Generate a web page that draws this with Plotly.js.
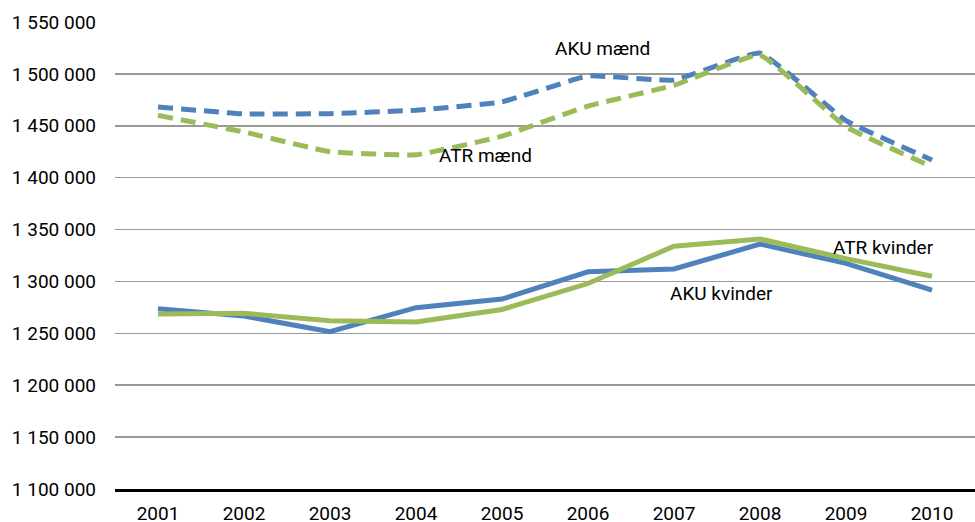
<!DOCTYPE html>
<html>
<head>
<meta charset="utf-8">
<script src="https://cdn.plot.ly/plotly-3.0.1.min.js"></script>
<style>html,body{margin:0;padding:0;background:#fff;}#chart{width:975px;height:522px;}</style>
</head>
<body>
<div id="chart"></div>
<script>
const years = ["2001","2002","2003","2004","2005","2006","2007","2008","2009","2010"];
const akuMaend = [1468000, 1461500, 1461700, 1465000, 1473000, 1498000, 1494000, 1520000, 1455000, 1417000];
const atrMaend = [1460000, 1444000, 1425000, 1422000, 1440000, 1469000, 1489000, 1518000, 1449000, 1410500];
const akuKvinder = [1273700, 1266700, 1251500, 1274700, 1283000, 1309300, 1312000, 1336000, 1317400, 1291700];
const atrKvinder = [1268600, 1269300, 1262100, 1261000, 1273000, 1298000, 1334000, 1341000, 1322000, 1305000];
const labels = ["AKU mænd", "ATR mænd", "ATR kvinder", "AKU kvinder"];

const blue = "#4F81BD", green = "#9BBB59";
const font = "Roboto, 'Open Sans', sans-serif";
const fs = 19;

const traces = [
  {x: years, y: akuKvinder, name: labels[3], mode: "lines", line: {color: blue, width: 5}},
  {x: years, y: atrKvinder, name: labels[2], mode: "lines", line: {color: green, width: 5}},
  {x: years, y: akuMaend, name: labels[0], mode: "lines", line: {color: blue, width: 5, dash: "15px,8px", shape: "spline", smoothing: 0.3}},
  {x: years, y: atrMaend, name: labels[1], mode: "lines", line: {color: green, width: 5, dash: "15px,8px", shape: "spline", smoothing: 0.3}}
];

const layout = {
  width: 975, height: 522,
  margin: {l: 115, r: 0, t: 22, b: 33},
  showlegend: false,
  paper_bgcolor: "#fff", plot_bgcolor: "#fff",
  separators: ", ",
  font: {family: font, size: fs, color: "#000"},
  xaxis: {
    type: "category",
    range: [-0.5, 9.5],
    showgrid: false, zeroline: false,
    showline: true, linecolor: "#000", linewidth: 3,
    ticks: "", ticklabelstandoff: 5,
    tickfont: {family: font, size: fs, color: "#000"}
  },
  yaxis: {
    range: [1100000, 1550000],
    dtick: 50000, tickformat: ",d",
    showgrid: true, gridcolor: "#999", gridwidth: 1.5,
    zeroline: false, showline: false,
    ticks: "", ticklabelstandoff: 18,
    tickfont: {family: font, size: fs, color: "#000"}
  },
  annotations: [
    {text: labels[0], xref: "paper", yref: "paper", x: 0.567, y: 0.944, xanchor: "center", yanchor: "middle", showarrow: false, font: {family: font, size: fs, color: "#000"}},
    {text: labels[1], xref: "paper", yref: "paper", x: 0.431, y: 0.715, xanchor: "center", yanchor: "middle", showarrow: false, font: {family: font, size: fs, color: "#000"}},
    {text: labels[2], xref: "paper", yref: "paper", x: 0.894, y: 0.518, xanchor: "center", yanchor: "middle", showarrow: false, font: {family: font, size: fs, color: "#000"}},
    {text: labels[3], xref: "paper", yref: "paper", x: 0.705, y: 0.418, xanchor: "center", yanchor: "middle", showarrow: false, font: {family: font, size: fs, color: "#000"}}
  ]
};

Plotly.newPlot("chart", traces, layout, {staticPlot: true, displayModeBar: false});
</script>
</body>
</html>
